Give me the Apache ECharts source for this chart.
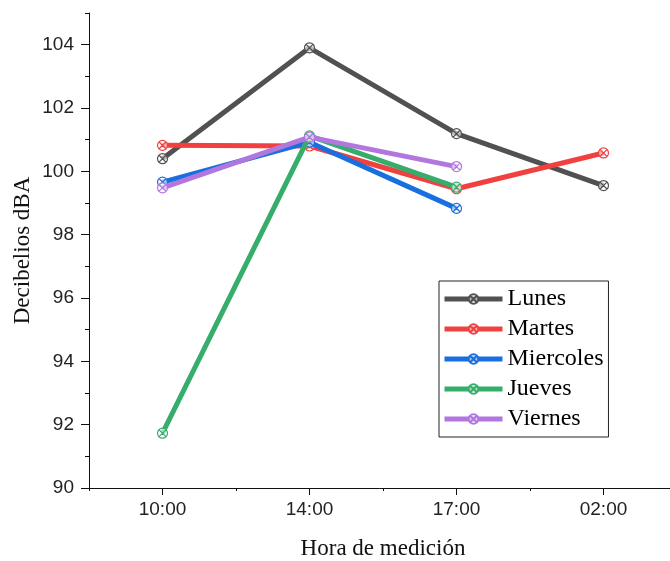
<!DOCTYPE html>
<html>
<head>
<meta charset="utf-8">
<script src="https://cdn.jsdelivr.net/npm/echarts@6/dist/echarts.min.js"></script>
<style>html,body{margin:0;padding:0;background:#fff;}#c{width:670px;height:561px;}</style>
</head>
<body>
<div id="c"></div>
<script>
const categories = ['10:00', '14:00', '17:00', '02:00'];
const lunes = [100.40, 103.90, 101.19, 99.55];
const martes = [100.82, 100.80, 99.45, 100.58];
const miercoles = [99.66, 100.92, 98.83, null];
const jueves = [91.73, 101.12, 99.50, null];
const viernes = [99.48, 101.08, 100.15, null];
const seriesNames = ['Lunes', 'Martes', 'Miercoles', 'Jueves', 'Viernes'];
const seriesColors = ['#515151', '#F14040', '#1A6FDF', '#37AD6B', '#B177DE'];
const yMajorTicks = [90, 92, 94, 96, 98, 100, 102, 104];

const sym = 'path://M0,5 A5,5 0 1,1 10,5 A5,5 0 1,1 0,5 Z M1.6,1.6 L8.4,8.4 M8.4,1.6 L1.6,8.4';
const dataSets = [lunes, martes, miercoles, jueves, viernes];

const chart = echarts.init(document.getElementById('c'), null, {renderer: 'canvas'});
chart.setOption({
  backgroundColor: '#fff',
  animation: false,
  grid: {left: 89, top: 13, width: 588, height: 475, outerBoundsMode: 'none', containLabel: false},
  xAxis: [
    {
      type: 'category', data: categories, boundaryGap: true, position: 'bottom',
      axisLine: {show: true, lineStyle: {color: '#111', width: 1}},
      axisTick: {show: true, alignWithLabel: true, length: 7, lineStyle: {color: '#111'}},
      axisLabel: {fontFamily: 'Liberation Sans', fontSize: 19, color: '#222', margin: 12},
      splitLine: {show: false},
      name: 'Hora de medición', nameLocation: 'middle', nameGap: 49,
      nameTextStyle: {fontFamily: 'Liberation Serif', fontSize: 23, color: '#111'}
    },
    {
      type: 'category', data: categories, boundaryGap: true, position: 'bottom',
      axisLine: {show: false},
      axisTick: {show: true, alignWithLabel: false, length: 3, lineStyle: {color: '#111'}},
      axisLabel: {show: false},
      splitLine: {show: false}
    }
  ],
  yAxis: [
    {
      type: 'value', min: 90, max: 105, interval: 1, position: 'left',
      axisLine: {show: true, lineStyle: {color: '#111', width: 1}},
      axisTick: {show: true, length: 4, lineStyle: {color: '#111'}},
      axisLabel: {show: false},
      splitLine: {show: false},
      name: 'Decibelios dBA', nameLocation: 'middle', nameGap: 55,
      nameTextStyle: {fontFamily: 'Liberation Serif', fontSize: 23, color: '#111'}
    },
    {
      type: 'value', min: 90, max: 105, interval: 2, position: 'left',
      axisLine: {show: false},
      axisTick: {show: true, length: 8, customValues: yMajorTicks, lineStyle: {color: '#111'}},
      axisLabel: {fontFamily: 'Liberation Sans', fontSize: 19, color: '#222', margin: 15, customValues: yMajorTicks},
      splitLine: {show: false}
    }
  ],
  legend: {
    orient: 'vertical', left: 439, top: 281,
    padding: [6, 5, 6, 3], itemGap: 6, itemWidth: 58, itemHeight: 12,
    borderColor: '#222', borderWidth: 1, backgroundColor: '#fff',
    lineStyle: {width: 5},
    textStyle: {fontFamily: 'Liberation Serif', fontSize: 24, color: '#000'},
    data: seriesNames
  },
  series: seriesNames.map((n, i) => ({
    name: n, type: 'line', data: dataSets[i], xAxisIndex: 0, yAxisIndex: 0,
    symbol: sym, symbolSize: 10, showAllSymbol: true, connectNulls: false,
    lineStyle: {color: seriesColors[i], width: 5},
    itemStyle: {color: 'rgba(255,255,255,0.6)', borderColor: seriesColors[i], borderWidth: 1.2},
    z: 2 + i
  }))
});
</script>
</body>
</html>
